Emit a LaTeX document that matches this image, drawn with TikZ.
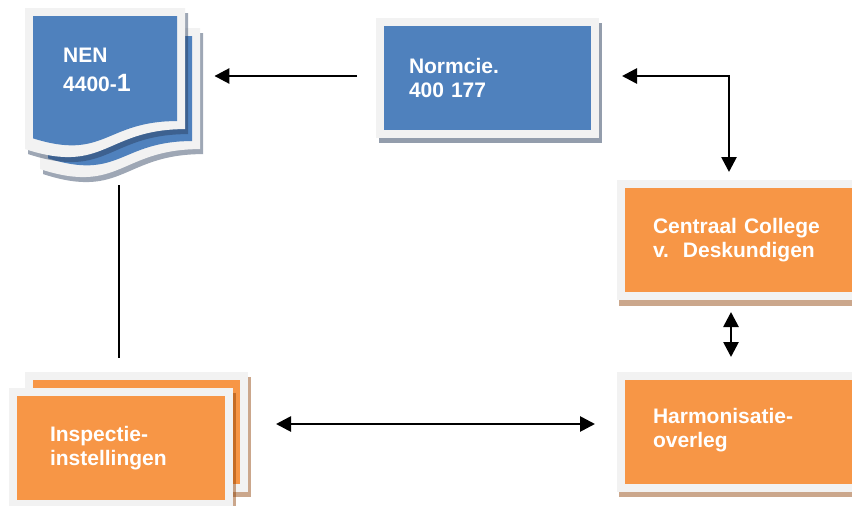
\documentclass[tikz,border=0pt]{standalone}
\usepackage{fontspec}
\setmainfont{Liberation Sans}
\usetikzlibrary{arrows.meta,calc}
\definecolor{blueF}{HTML}{4F81BD}
\definecolor{orangeF}{HTML}{F79646}
\definecolor{framegray}{HTML}{F2F2F2}
\definecolor{shadowB}{RGB}{40,60,90}
\definecolor{shadowO}{RGB}{140,60,0}
\newcommand\docpath[4]{(#1,#2) -- ({#1+#3},#2) -- ({#1+#3},{#2+0.802*#4}) .. controls ({#1+0.5*#3},{#2+0.802*#4}) and ({#1+0.5*#3},{#2+1.1075*#4}) .. (#1,{#2+0.934*#4}) -- cycle}
\tikzset{
  box/.style={draw=framegray, line width=8pt, inner ysep=0pt, minimum height=112pt,
    align=left, text=white, font=\bfseries\fontsize{21}{24.5}\selectfont},
  bluebox/.style={box, fill=blueF},
  orangebox/.style={box, fill=orangeF},
  shB/.style={fill=shadowB, opacity=0.45},
  shO/.style={fill=shadowO, opacity=0.45},
  conn/.style={line width=2.7pt, black},
  arr/.style={conn, -{Triangle[length=15pt,width=15pt]}},
  arrboth/.style={conn, {Triangle[length=15pt,width=15pt]}-{Triangle[length=15pt,width=15pt]}},
}
\begin{document}
\begin{tikzpicture}[x=1pt,y=-1pt]
\useasboundingbox (0,0) rectangle (852,506);
\clip (0,0) rectangle (852,506);

% ---- NEN document stack ----
\fill[shB] \docpath{43}{33}{160}{151};
\fill[framegray] \docpath{40}{28}{160}{151};
\fill[blueF] \docpath{48}{36}{144}{131};
\fill[shB] \docpath{28}{13}{160}{151};
\fill[framegray] \docpath{25}{8}{160}{151};
\fill[blueF] \docpath{33}{16}{144}{131};
\node[inner sep=0pt, minimum width=175pt, minimum height=167pt, anchor=north west] (nendoc) at (25,8) {};
\node[inner sep=0pt, anchor=north west, align=left, text=white,
      font=\bfseries\fontsize{21}{29.5}\selectfont] (nen) at (63,46)
  {\rule{0pt}{16pt}NEN\\4400-{\fontsize{25}{25}\selectfont 1}};

% ---- Normcie ----
\fill[shB, opacity=0.5] (379,23) rectangle (602,143);
\node[bluebox, text width=157pt, inner xsep=29pt] (normcie) at (487.5,78)
  {Normcie.\\400 177};

% ---- Centraal College ----
\fill[shO] (619,186) rectangle (872,306);
\node[orangebox, text width=181pt, inner xsep=32pt] (centraal) at (743.5,240)
  {Centraal College\\v.\ \ Deskundigen};

% ---- Harmonisatie ----
\fill[shO] (619,377) rectangle (872,497);
\node[orangebox, text width=181pt, inner xsep=32pt] (harmon) at (743.5,432)
  {Harmonisatie-\\overleg\vspace{4pt}};

% ---- Inspectie ----
\fill[shO] (28,377) rectangle (251,497);
\node[orangebox, minimum width=215pt, inner xsep=0pt] (inspback) at (136.5,432) {};
\fill[shO] (12,393) rectangle (236,513);
\node[orangebox, text width=142pt, inner xsep=37pt] (insp) at (121,448)
  {Inspectie-\\instellingen};

% ---- connectors ----
\draw[arr] ([xshift=-19pt,yshift=2pt]normcie.west) coordinate (a1)
  -- ([xshift=14pt]nendoc.east |- a1);
\draw[arrboth] ([xshift=23pt,yshift=2pt]normcie.east)
  -| ([xshift=112pt,yshift=8pt]centraal.north west);
\draw[arrboth] ([xshift=114pt,yshift=-12pt]centraal.south west)
  -- ([xshift=114pt,yshift=15pt]harmon.north west);
\draw[arrboth] ([xshift=28pt,yshift=8pt]inspback.east)
  -- ([xshift=-22pt,yshift=8pt]harmon.west);
\draw[conn] ([xshift=94pt,yshift=-10pt]nendoc.south west)
  -- ([xshift=94pt,yshift=14pt]inspback.north west);
\end{tikzpicture}
\end{document}
